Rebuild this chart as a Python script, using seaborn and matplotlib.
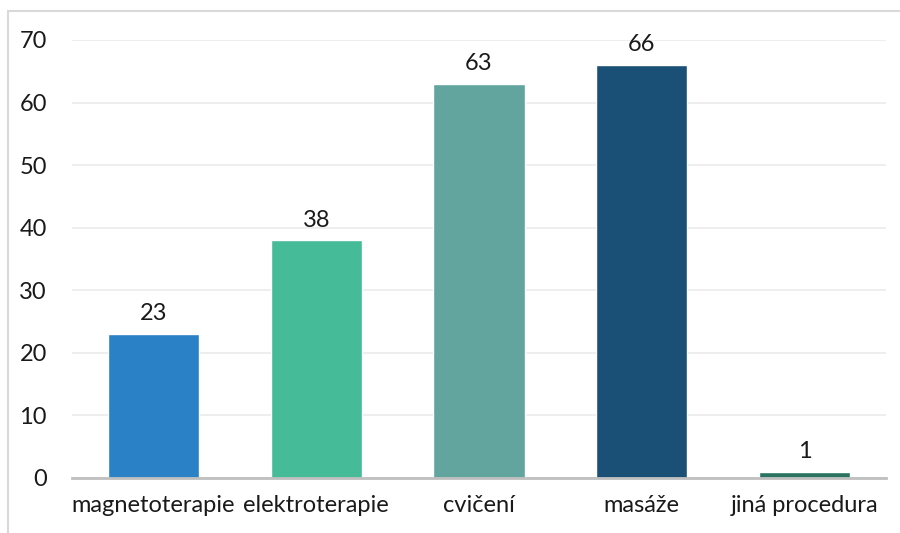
import matplotlib
matplotlib.use("Agg")
import matplotlib.pyplot as plt
import seaborn as sns
import pandas as pd
from matplotlib.patches import Rectangle

categories = ["magnetoterapie", "elektroterapie", "cvičení", "masáže", "jiná procedura"]
counts = [23, 38, 63, 66, 1]
colors = ["#2A81C6", "#45BB97", "#62A59F", "#1B5076", "#2A7361"]
y_ticks = [0, 10, 20, 30, 40, 50, 60, 70]

df = pd.DataFrame({"procedura": categories, "počet": counts})

sns.set_theme(style="white")
plt.rcParams["font.family"] = ["Lato", "DejaVu Sans"]

fig = plt.figure(figsize=(9, 5.33), dpi=100)
ax = fig.add_axes([72 / 900, (533 - 478) / 533, (886 - 72) / 900, (478 - 40) / 533])

sns.barplot(data=df, x="procedura", y="počet", hue="procedura", palette=colors,
            width=0.56, legend=False, ax=ax, saturation=1)

ax.set_xlim(-0.5, 4.5)
ax.set_ylim(0, 70)
ax.set_yticks(y_ticks)
ax.yaxis.grid(True, color="#EBEBEB", linewidth=1.2)
ax.set_axisbelow(True)
for side in ["top", "right", "left"]:
    ax.spines[side].set_visible(False)
ax.spines["bottom"].set_color("#BFBFBF")
ax.spines["bottom"].set_linewidth(2)
ax.set_xlabel("")
ax.set_ylabel("")
ax.tick_params(axis="both", length=0, labelsize=17, colors="#1A1A1A")
ax.tick_params(axis="y", pad=18)
ax.tick_params(axis="x", pad=12)

for i, v in enumerate(counts):
    ax.annotate(str(v), (i, v), xytext=(0, 7), textcoords="offset points",
                ha="center", va="bottom", fontsize=17, color="#1A1A1A")

# chart frame
fig.patches.append(Rectangle((8 / 900, -0.05), 1.2, (533 - 11) / 533 + 0.05,
                             transform=fig.transFigure, fill=False,
                             edgecolor="#D9D9D9", linewidth=1.5))

fig.savefig("out.png", dpi=100)
